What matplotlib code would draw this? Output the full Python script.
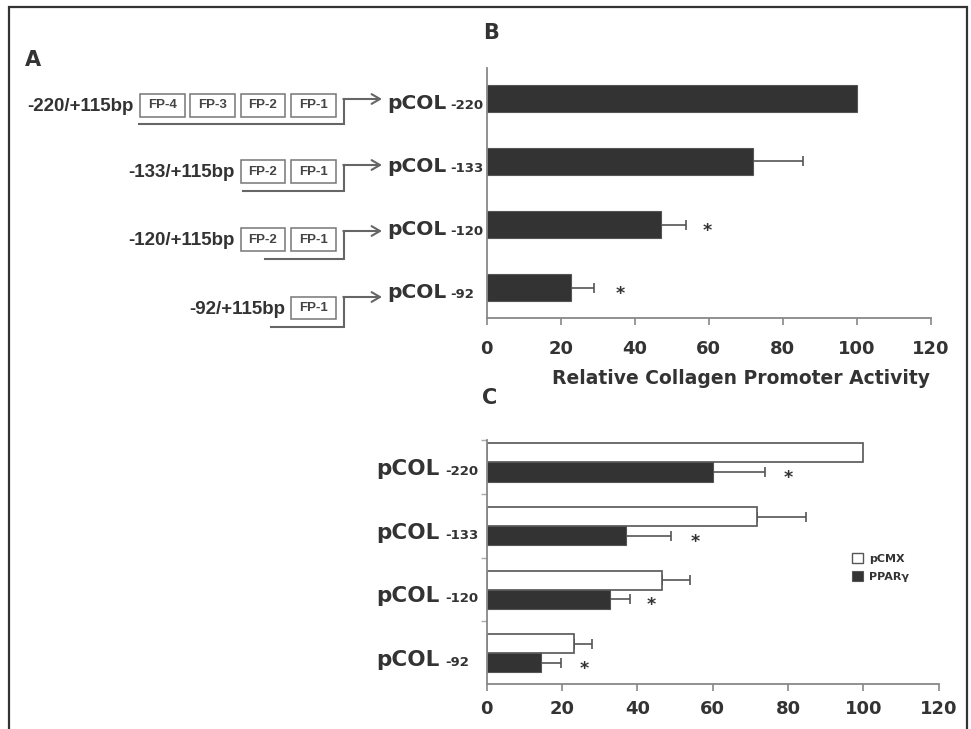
import numpy as np
import matplotlib
matplotlib.use("Agg")
import matplotlib.pyplot as plt
from matplotlib.patches import Rectangle, Patch

W, H = 971, 729

# panel B: relative collagen promoter activity
constructs = ["-220", "-133", "-120", "-92"]
activity = [100, 72, 47, 22.7]
activity_err = [0, 13.3, 6.8, 6.3]
activity_star = [None, None, 59.6, 36]

# panel C: pCMX vs PPARgamma
pcmx = [100, 71.9, 46.6, 23.1]
pcmx_err = [0, 12.9, 7.4, 4.9]
ppar = [60.2, 36.9, 32.8, 14.3]
ppar_err = [13.8, 12.0, 5.3, 5.5]
ppar_star = [80, 55.5, 43.6, 25.8]

# panel A: promoter fragments
fragments = ["-220/+115bp", "-133/+115bp", "-120/+115bp", "-92/+115bp"]
elements = [["FP-4", "FP-3", "FP-2", "FP-1"], ["FP-2", "FP-1"], ["FP-2", "FP-1"], ["FP-1"]]

DARK = "#333333"
GRAY = "#888888"
TXT = "#333333"

plt.rcParams["font.family"] = ["DejaVu Sans"]
plt.rcParams["font.weight"] = "bold"

fig = plt.figure(figsize=(W / 100, H / 100), dpi=100)

# outer frame (open at the bottom)
fig.add_artist(Rectangle((9 / W, -0.05), (967 - 9) / W, (729 - 7) / H + 0.05,
                         transform=fig.transFigure, fill=False, lw=1.6, ec="#333333"))


def px(x, y):
    return x / W, 1 - y / H


# ---- panel A (drawn in pixel space) ----
ax_a = fig.add_axes([0, 0, 1, 1])
ax_a.set_xlim(0, W)
ax_a.set_ylim(H, 0)
ax_a.axis("off")

row_mid = [105.3, 171.7, 239.5, 308]
arrow_y = [99, 165, 231, 297]
line_start = [139, 243, 265, 271]
box_w, box_h, box_step, box_right = 44.5, 22.5, 50.3, 335.5
for i, (frag, els) in enumerate(zip(fragments, elements)):
    yc = row_mid[i]
    n = len(els)
    for k, el in enumerate(els):
        right = box_right - (n - 1 - k) * box_step
        ax_a.add_patch(Rectangle((right - box_w, yc - box_h / 2), box_w, box_h,
                                 fill=False, ec="#777777", lw=1.1))
        ax_a.text(right - box_w / 2, yc, el, ha="center", va="center", fontsize=9.5,
                  family="Liberation Sans", color="#444444")
    first_left = box_right - (n - 1) * box_step - box_w
    ax_a.text(first_left - 6, yc + 1, frag, ha="right", va="center", fontsize=13.5,
              family="Liberation Sans", color=TXT)
    yb = yc + 19
    ax_a.plot([line_start[i], 344, 344], [yb, yb, arrow_y[i]], color="#666666", lw=1.5,
              solid_joinstyle="miter")
    ax_a.annotate("", xy=(382, arrow_y[i]), xytext=(343.3, arrow_y[i]),
                  arrowprops=dict(arrowstyle="->,head_length=0.6,head_width=0.35",
                                  color="#666666", lw=1.5, shrinkA=0, shrinkB=0))

fig.text(*px(33, 60), "A", fontsize=15, color=TXT, ha="center", va="center")
fig.text(*px(491, 33), "B", fontsize=15, color=TXT, ha="center", va="center")
fig.text(*px(490, 398), "C", fontsize=15, color=TXT, ha="center", va="center")


def style_axis(ax, pad):
    for s in ["top", "right"]:
        ax.spines[s].set_visible(False)
    for s in ["left", "bottom"]:
        ax.spines[s].set_color(GRAY)
        ax.spines[s].set_linewidth(1.3)
    ax.set_xlim(0, 120)
    ax.set_xticks(range(0, 121, 20))
    ax.tick_params(axis="x", direction="out", length=5, width=1.2, color=GRAY,
                   pad=pad, labelsize=13, labelcolor=TXT)
    ax.patch.set_alpha(0)


# ---- panel B ----
ax_b = fig.add_axes([486.7 / W, 1 - 318 / H, 444.3 / W, 250 / H])
yb_pos = np.arange(len(constructs))
ax_b.barh(yb_pos, activity, height=0.43, color=DARK, edgecolor="#555555", lw=0.8, zorder=2)
err = np.array(activity_err)
m = err > 0
ax_b.errorbar(np.array(activity)[m], yb_pos[m], xerr=[np.zeros(m.sum()), err[m]],
              fmt="none", ecolor="#555555", elinewidth=1.2, capsize=3.5, capthick=1.2, zorder=1)
for i, s in enumerate(activity_star):
    if s is not None:
        ax_b.text(s, i + 0.1, "*", ha="center", va="center", fontsize=12.5, color=TXT)
ax_b.set_ylim(3.484, -0.484)
ax_b.set_yticks([])
style_axis(ax_b, 11)
for i, c in enumerate(constructs):
    ax_b.text(-0.2244, i + 0.16, "pCOL", transform=ax_b.get_yaxis_transform(),
              fontsize=14.5, color=TXT, ha="left", va="baseline")
    ax_b.text(-0.0826, i + 0.16, c, transform=ax_b.get_yaxis_transform(),
              fontsize=9.5, color=TXT, ha="left", va="baseline")
fig.text(*px(740.5, 378), "Relative Collagen Promoter Activity", fontsize=13.5,
         color=TXT, ha="center", va="center")

# ---- panel C ----
ax_c = fig.add_axes([486.7 / W, 1 - 684.3 / H, 451.9 / W, 244.3 / H])
yc_pos = np.arange(len(constructs))
bh = 0.3
ax_c.barh(yc_pos - bh / 2, pcmx, height=bh, color="white", edgecolor="#555555", lw=1.2,
          zorder=2, label="pCMX")
ax_c.barh(yc_pos + bh / 2, ppar, height=bh, color=DARK, edgecolor="#555555", lw=0.8,
          zorder=2, label="PPAR\u03b3")
e1 = np.array(pcmx_err)
m1 = e1 > 0
ax_c.errorbar(np.array(pcmx)[m1], (yc_pos - bh / 2)[m1], xerr=[np.zeros(m1.sum()), e1[m1]],
              fmt="none", ecolor="#555555", elinewidth=1.2, capsize=3.5, capthick=1.2, zorder=1)
ax_c.errorbar(ppar, yc_pos + bh / 2, xerr=[np.zeros(len(ppar)), ppar_err],
              fmt="none", ecolor="#555555", elinewidth=1.2, capsize=3.5, capthick=1.2, zorder=1)
for i, s in enumerate(ppar_star):
    ax_c.text(s, i + bh / 2 + 0.1, "*", ha="center", va="center", fontsize=12.5, color=TXT)
ax_c.set_ylim(3.49, -0.354)
ax_c.set_yticks([-0.354, 0.5, 1.5, 2.5])
ax_c.set_yticklabels([])
ax_c.tick_params(axis="y", direction="out", length=4, width=1.0, color="#aaaaaa")
style_axis(ax_c, 6)
for i, c in enumerate(constructs):
    ax_c.text(-0.2434, i + 0.2, "pCOL", transform=ax_c.get_yaxis_transform(),
              fontsize=15.5, color=TXT, ha="left", va="baseline")
    ax_c.text(-0.0923, i + 0.2, c, transform=ax_c.get_yaxis_transform(),
              fontsize=9.5, color=TXT, ha="left", va="baseline")

handles = [Patch(facecolor="white", edgecolor="#555555", lw=1.0, label="pCMX"),
           Patch(facecolor=DARK, edgecolor="#555555", lw=0.8, label="PPAR\u03b3")]
leg = fig.legend(handles=handles, loc="upper left", bbox_to_anchor=px(852, 553),
                 frameon=False, fontsize=8, handlelength=1.0, handleheight=1.0,
                 handletextpad=0.5, labelspacing=0.65, borderpad=0, borderaxespad=0)
for t in leg.get_texts():
    t.set_color(TXT)

fig.savefig("out.png", dpi=100)
